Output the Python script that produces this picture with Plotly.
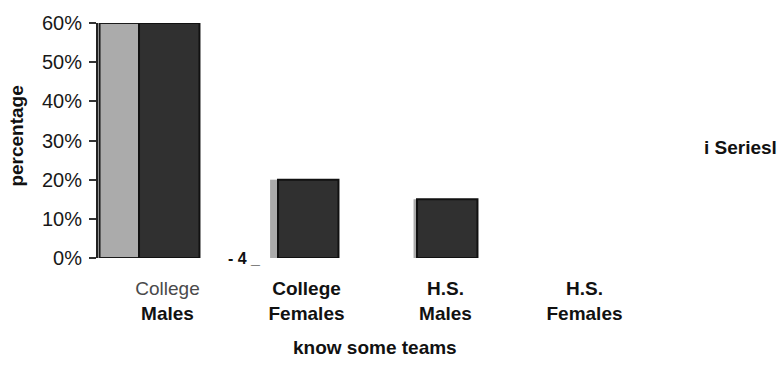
import plotly.graph_objects as go

# Share of respondents who know some teams, by group
groups = ["College Males", "College Females", "H.S. Males", "H.S. Females"]
tick_labels = [
    "<span style='font-weight:normal;color:#4a4a4a'>College</span><br>Males",
    "College<br>Females",
    "H.S.<br>Males",
    "H.S.<br>Females",
]
series_light = [60, 20, 15, 0]
series_dark = [60, 20, 15, 0]
y_ticks = [0, 10, 20, 30, 40, 50, 60]
y_tick_text = ["0%", "10%", "20%", "30%", "40%", "50%", "60%"]

x_pos = list(range(len(groups)))

FONT = "Liberation Sans, Arial, sans-serif"
INK = "#111111"

fig = go.Figure()

# light series sits behind the dark one, slightly to its left
fig.add_trace(go.Bar(
    x=x_pos, y=series_light, name="Series1",
    offset=[-0.489, -0.262, -0.23, -0.2],
    width=[0.284, 0.07, 0.04, 0.0],
    marker=dict(color="#ababab",
                line=dict(color="#1a1a1a", width=[2, 0, 0, 0])),
    showlegend=False, hoverinfo="skip",
))
fig.add_trace(go.Bar(
    x=x_pos, y=series_dark, name="Series2",
    offset=-0.205, width=0.435,
    marker=dict(color="#303030",
                line=dict(color="#111111", width=[2, 2, 2, 0])),
    showlegend=False, hoverinfo="skip",
))

fig.update_layout(
    width=784, height=366,
    margin=dict(l=98, r=130, t=16, b=108),
    paper_bgcolor="white", plot_bgcolor="white",
    barmode="overlay",
    font=dict(family=FONT, color=INK),
    xaxis=dict(
        range=[-0.5, 3.5],
        tickmode="array", tickvals=x_pos, ticktext=tick_labels,
        tickfont=dict(size=19, family=FONT, color=INK, weight="bold"),
        showline=False, showgrid=False, zeroline=False,
        ticks="", ticklabelstandoff=17,
    ),
    yaxis=dict(
        range=[0, 60],
        tickmode="array", tickvals=y_ticks, ticktext=y_tick_text,
        tickfont=dict(size=20, family=FONT, color="#181818"),
        showline=True, linecolor="#222222", linewidth=2,
        ticks="outside", ticklen=7, tickwidth=1.5, tickcolor="#333333",
        ticklabelstandoff=3,
        showgrid=False, zeroline=False,
    ),
    annotations=[
        dict(text="<b>percentage</b>", xref="paper", yref="paper",
             x=-0.146, y=0.52, textangle=-90, showarrow=False,
             xanchor="center", yanchor="middle",
             font=dict(size=19, family=FONT, color=INK)),
        dict(text="<b>know some teams</b>", xref="paper", yref="paper",
             x=0.498, y=-0.38, showarrow=False,
             xanchor="center", yanchor="middle",
             font=dict(size=19, family=FONT, color=INK)),
        dict(text="<b>i Seriesl</b>", xref="paper", yref="paper",
             x=1.155, y=0.471, showarrow=False,
             xanchor="center", yanchor="middle",
             font=dict(size=19, family=FONT, color=INK)),
        dict(text="<b>- 4 _</b>", xref="paper", yref="paper",
             x=0.263, y=0.0, showarrow=False,
             xanchor="center", yanchor="middle",
             font=dict(size=16, family=FONT, color=INK)),
    ],
)

fig.write_html("out.html")
